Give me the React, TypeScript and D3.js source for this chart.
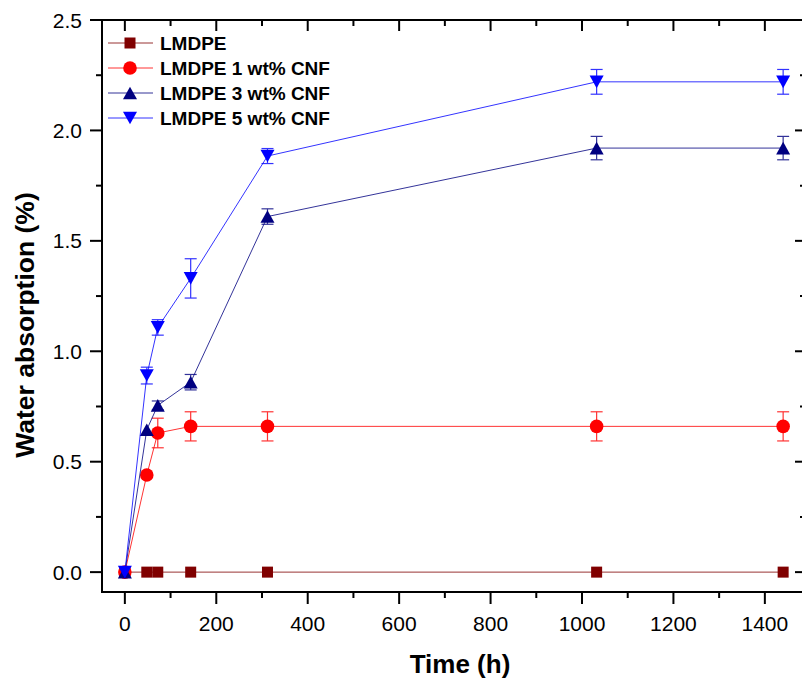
import React from 'react';
import * as d3 from 'd3';

// sampling times (h)
const times = [0, 48, 72, 144, 312, 1032, 1440];

const seriesNames = ['LMDPE', 'LMDPE 1 wt% CNF', 'LMDPE 3 wt% CNF', 'LMDPE 5 wt% CNF'];
const seriesColors = ['#800000', '#FF0000', '#000080', '#0000FF'];
const seriesMarkers = ['square', 'circle', 'up', 'down'];

const lmdpe = [0, 0, 0, 0, 0, 0, 0];
const lmdpeErr = [0, 0, 0, 0, 0, 0, 0];
const cnf1 = [0, 0.44, 0.63, 0.66, 0.66, 0.66, 0.66];
const cnf1Err = [0, 0, 0.067, 0.066, 0.066, 0.066, 0.066];
const cnf3 = [0, 0.645, 0.755, 0.86, 1.61, 1.92, 1.92];
const cnf3Err = [0, 0, 0.02, 0.035, 0.035, 0.053, 0.053];
const cnf5 = [0, 0.89, 1.108, 1.33, 1.884, 2.22, 2.22];
const cnf5Err = [0, 0.038, 0.035, 0.089, 0.034, 0.056, 0.056];

const values = [lmdpe, cnf1, cnf3, cnf5];
const errors = [lmdpeErr, cnf1Err, cnf3Err, cnf5Err];

const xTicks = [0, 200, 400, 600, 800, 1000, 1200, 1400];
const xMinor = [100, 300, 500, 700, 900, 1100, 1300];
const yTicks = [0, 0.5, 1.0, 1.5, 2.0, 2.5];
const yMinor = [0.25, 0.75, 1.25, 1.75, 2.25];

const W = 802, H = 681;
// right edge of the frame sits just past the picture
const left = 102, right = 806, top = 20, bottom = 592;
const FONT = '"Liberation Sans", Arial, sans-serif';

const x = d3.scaleLinear().domain([-50, 1490]).range([left, right]);
const y = d3.scaleLinear().domain([-0.09, 2.5]).range([bottom, top]);

const Marker = ({ kind, cx, cy, color }) => {
  if (kind === 'square') return <rect x={cx - 5.5} y={cy - 5.5} width={11} height={11} fill={color} />;
  if (kind === 'circle') return <circle cx={cx} cy={cy} r={6.8} fill={color} />;
  const hw = 7, hh = 6.3;
  const d = kind === 'up'
    ? `M${cx - hw},${cy + hh}L${cx + hw},${cy + hh}L${cx},${cy - hh}Z`
    : `M${cx - hw},${cy - hh}L${cx + hw},${cy - hh}L${cx},${cy + hh}Z`;
  return <path d={d} fill={color} />;
};

export default function App() {
  const line = d3.line<number>().x((_, i) => x(times[i])).y(d => y(d));

  return (
    <svg width={W} height={H} style={{ position: 'absolute', left: 0, top: 0, fontFamily: FONT }}>
      <rect width={W} height={H} fill="#fff" />

      {/* series */}
      {values.map((vals, s) => (
        <g key={s}>
          <path d={line(vals) || ''} fill="none" stroke={seriesColors[s]} strokeWidth={1} opacity={0.8} />
          {vals.map((v, i) => errors[s][i] > 0 ? (
            <g key={'e' + i} stroke={seriesColors[s]} strokeWidth={1.2} opacity={0.8}>
              <line x1={x(times[i])} x2={x(times[i])} y1={y(v - errors[s][i])} y2={y(v + errors[s][i])} />
              <line x1={x(times[i]) - 6} x2={x(times[i]) + 6} y1={y(v + errors[s][i])} y2={y(v + errors[s][i])} />
              <line x1={x(times[i]) - 6} x2={x(times[i]) + 6} y1={y(v - errors[s][i])} y2={y(v - errors[s][i])} />
            </g>
          ) : null)}
          {vals.map((v, i) => (
            <Marker key={'m' + i} kind={seriesMarkers[s]} cx={x(times[i])} cy={y(v)} color={seriesColors[s]} />
          ))}
        </g>
      ))}

      {/* frame */}
      <rect x={left} y={top} width={right - left} height={bottom - top} fill="none" stroke="#000" strokeWidth={2} />

      {/* bottom / top ticks */}
      {xTicks.map(t => (
        <g key={'xt' + t}>
          <line x1={x(t)} x2={x(t)} y1={bottom} y2={bottom + 12} stroke="#000" strokeWidth={2} />
          <line x1={x(t)} x2={x(t)} y1={top} y2={top + 11} stroke="#000" strokeWidth={2} />
          <text x={x(t)} y={631} textAnchor="middle" fontSize={21}>{t}</text>
        </g>
      ))}
      {xMinor.map(t => (
        <g key={'xm' + t}>
          <line x1={x(t)} x2={x(t)} y1={bottom} y2={bottom + 6} stroke="#000" strokeWidth={2} />
          <line x1={x(t)} x2={x(t)} y1={top} y2={top + 6} stroke="#000" strokeWidth={2} />
        </g>
      ))}

      {/* left / right ticks */}
      {yTicks.map(t => (
        <g key={'yt' + t}>
          <line x1={left - 12} x2={left} y1={y(t)} y2={y(t)} stroke="#000" strokeWidth={2} />
          <line x1={right - 11} x2={right} y1={y(t)} y2={y(t)} stroke="#000" strokeWidth={2} />
          <text x={82} y={y(t)} dy="0.36em" textAnchor="end" fontSize={21}>{d3.format('.1f')(t)}</text>
        </g>
      ))}
      {yMinor.map(t => (
        <g key={'ym' + t}>
          <line x1={left - 6} x2={left} y1={y(t)} y2={y(t)} stroke="#000" strokeWidth={2} />
          <line x1={right - 6} x2={right} y1={y(t)} y2={y(t)} stroke="#000" strokeWidth={2} />
        </g>
      ))}

      {/* axis titles */}
      <text x={460} y={673} textAnchor="middle" fontSize={26} fontWeight="bold">Time (h)</text>
      <text transform={`translate(34,${325}) rotate(-90)`} textAnchor="middle" fontSize={26.5} fontWeight="bold">
        Water absorption (%)
      </text>

      {/* legend */}
      {seriesNames.map((name, s) => {
        const ly = 43 + s * 25;
        return (
          <g key={'lg' + s}>
            <line x1={108} x2={153} y1={ly} y2={ly} stroke={seriesColors[s]} strokeWidth={1} opacity={0.8} />
            <Marker kind={seriesMarkers[s]} cx={130} cy={ly} color={seriesColors[s]} />
            <text x={160} y={ly} dy="0.36em" fontSize={19} fontWeight="bold">{name}</text>
          </g>
        );
      })}
    </svg>
  );
}
